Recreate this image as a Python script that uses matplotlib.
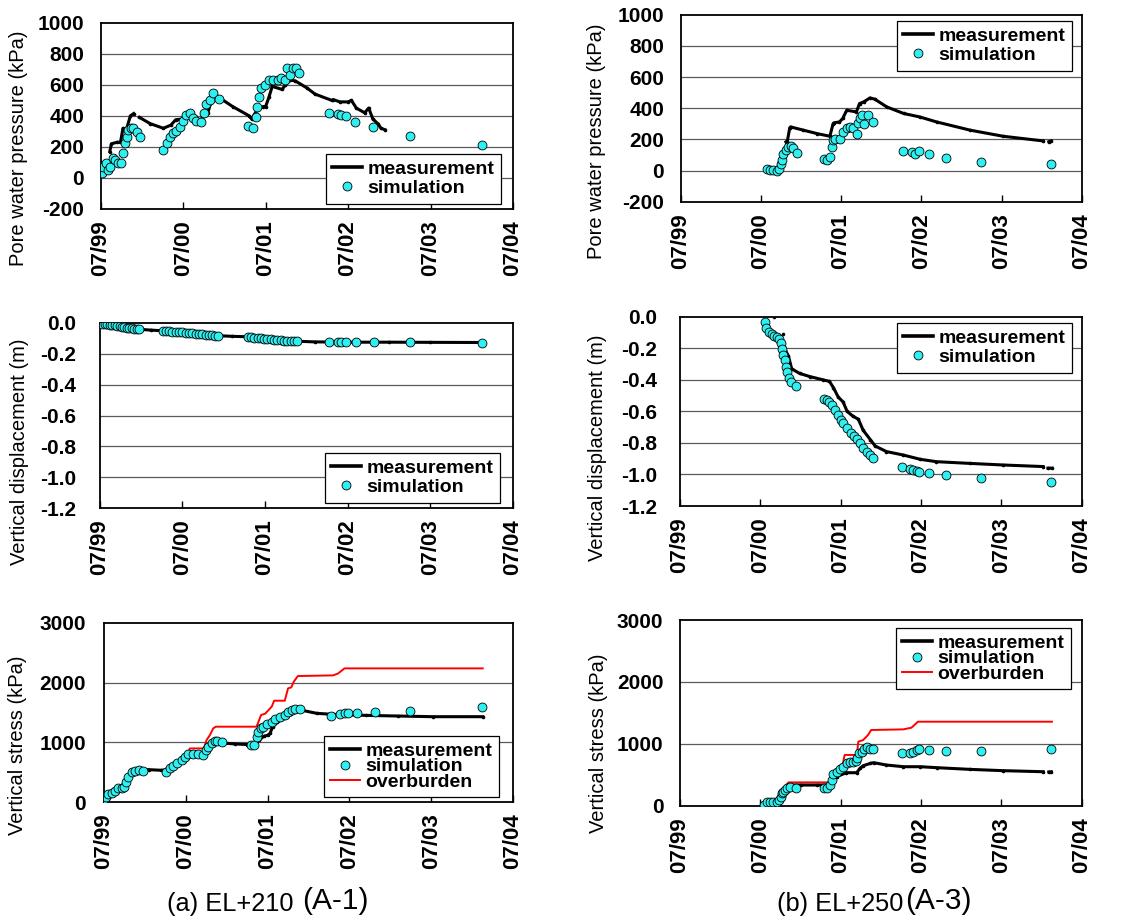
#!/usr/bin/env python3

import numpy as np
import matplotlib
matplotlib.use("Agg")
import matplotlib.pyplot as plt
from matplotlib.lines import Line2D

nan = np.nan

# ============================================================
# DATA  (time in years after 07/1999)
# ============================================================
YEAR_TICKS = [0, 1, 2, 3, 4, 5]
YEAR_LABELS = ["07/99", "07/00", "07/01", "07/02", "07/03", "07/04"]

# ---- (a) EL+210, pore water pressure (kPa)
a_pwp_meas_t = [0.11, 0.13, 0.20, 0.24, 0.27, 0.31, 0.36, 0.40, nan, 0.47, 0.60, 0.76,
                0.85, 0.91, 1.00, 1.10, 1.20, 1.30, 1.37, 1.43, 1.60, 1.80, 1.83, 1.90,
                1.97, 2.00, 2.04, 2.08, 2.20, 2.24, 2.30, 2.36, 2.50, 2.60, 2.80, 2.82,
                2.90, 3.00, 3.04, 3.10, 3.20, 3.25, 3.30, 3.36, 3.40, 3.45]
a_pwp_meas_v = [170, 220, 230, 230, 320, 310, 400, 415, nan, 390, 350, 320,
                340, 375, 380, 400, 370, 420, 550, 520, 460, 400, 380, 440,
                460, 460, 520, 590, 570, 600, 630, 625, 580, 540, 500, 505,
                490, 490, 500, 450, 420, 450, 380, 350, 320, 310]
a_pwp_sim_t = [0.012, 0.032, 0.065, 0.093, 0.113, 0.153, 0.173, 0.214, 0.242, 0.274,
               0.294, 0.315, 0.335, 0.363, 0.395, 0.435, 0.476,
               0.758, 0.798, 0.839, 0.879, 0.919, 0.960, 1.000, 1.040, 1.081, 1.121,
               1.161, 1.222, 1.250, 1.282, 1.323, 1.363, 1.435,
               1.786, 1.847, 1.879, 1.895, 1.919, 1.948, 1.988, 2.040, 2.089, 2.149,
               2.190, 2.230, 2.258, 2.290, 2.331, 2.371, 2.399,
               2.766, 2.875, 2.915, 2.976, 3.089, 3.306, 3.750, 4.621]
a_pwp_sim_v = [30, 73, 94, 52, 73, 127, 116, 94, 94, 159,
               223, 266, 309, 320, 320, 298, 266,
               180, 223, 266, 292, 305, 330, 369, 406, 416, 384,
               369, 363, 416, 476, 502, 545, 509,
               335, 320, 395, 459, 524, 577, 599, 631, 631, 631,
               642, 631, 706, 663, 706, 706, 674,
               421, 410, 406, 401, 363, 326, 270, 215]

# ---- (b) EL+250, pore water pressure (kPa)
b_pwp_meas_t = [1.313, 1.33, 1.36, 1.37, 1.53, 1.70, 1.86, 1.90, 1.91, 1.98, 2.02, 2.07,
                2.19, 2.23, 2.28, 2.36, 2.42, 2.57, 2.78, 2.98, 3.19, 3.61, 4.02, 4.52,
                nan, 4.59, 4.62]
b_pwp_meas_v = [184, 190, 275, 280, 259, 237, 220, 300, 306, 312, 334, 387,
                376, 430, 440, 466, 458, 408, 366, 344, 312, 259, 220, 190,
                nan, 185, 190]
b_pwp_sim_t = [1.072, 1.114, 1.155, 1.197, 1.230, 1.247, 1.259, 1.280, 1.313, 1.342,
               1.372, 1.397, 1.446,
               1.787, 1.829, 1.862, 1.883, 1.904, 1.924, 1.987, 2.028, 2.070, 2.111,
               2.153, 2.203, 2.215, 2.236, 2.261, 2.286, 2.340, 2.394,
               2.768, 2.880, 2.922, 2.976, 3.092, 3.308, 3.749, 4.622]
b_pwp_sim_v = [11, 6, 2, 0, 13, 40, 66, 109, 130, 152,
               156, 145, 113,
               71, 66, 88, 152, 195, 205, 205, 248, 270, 280,
               270, 237, 302, 334, 355, 297, 355, 312,
               126, 120, 109, 126, 103, 79, 56, 41]

# ---- (a) EL+210, vertical displacement (m)
a_dsp_meas_t = [0.0, 0.25, 0.49, 0.62, 0.75, 1.00, 1.43, 1.60, 1.79, 2.00, 2.39,
                2.60, 3.00, 3.50, 4.00, 4.62]
a_dsp_meas_v = [0.0, -0.022, -0.043, -0.048, -0.052, -0.063, -0.084, -0.088, -0.091,
                -0.104, -0.120, -0.124, -0.126, -0.126, -0.127, -0.128]
a_dsp_sim_t = [0.00, 0.03, 0.06, 0.09, 0.12, 0.15, 0.18, 0.21, 0.24, 0.27, 0.30, 0.33,
               0.36, 0.39, 0.42, 0.45, 0.48,
               0.76, 0.80, 0.84, 0.88, 0.92, 0.96, 1.00, 1.04, 1.08, 1.12, 1.16, 1.20,
               1.24, 1.28, 1.32, 1.36, 1.40, 1.43,
               1.79, 1.83, 1.87, 1.91, 1.95, 1.99, 2.03, 2.07, 2.11, 2.15, 2.19, 2.23,
               2.27, 2.31, 2.35, 2.39,
               2.768, 2.885, 2.925, 2.985, 3.098, 3.316, 3.751, 4.625]
a_dsp_sim_v = [-0.003, -0.006, -0.008, -0.011, -0.013, -0.015, -0.018, -0.021, -0.024,
               -0.027, -0.029, -0.032, -0.035, -0.037, -0.039, -0.041, -0.043,
               -0.052, -0.054, -0.056, -0.058, -0.059, -0.061, -0.063, -0.065, -0.067,
               -0.069, -0.071, -0.073, -0.075, -0.077, -0.079, -0.081, -0.083, -0.084,
               -0.091, -0.094, -0.097, -0.099, -0.102, -0.104, -0.106, -0.108, -0.110,
               -0.112, -0.114, -0.116, -0.117, -0.118, -0.119, -0.119,
               -0.125, -0.125, -0.127, -0.127, -0.127, -0.127, -0.127, -0.131]

# ---- (b) EL+250, vertical displacement (m)
b_dsp_meas_t = [1.17, nan, 1.28, nan, 1.29, 1.35, 1.39, 1.49, 1.62, 1.78, 1.86, 1.91,
                1.97, 2.03, 2.08, 2.15, 2.22, 2.28, 2.37, 2.43, 2.57, 2.78, 2.99, 3.19,
                3.61, 4.02, 4.52, nan, 4.58, 4.63]
b_dsp_meas_v = [-0.004, nan, -0.11, nan, -0.19, -0.25, -0.33, -0.36, -0.38, -0.40,
                -0.41, -0.45, -0.51, -0.54, -0.60, -0.63, -0.65, -0.72, -0.78, -0.82,
                -0.855, -0.877, -0.904, -0.919, -0.93, -0.94, -0.95, nan, -0.96, -0.96]
b_dsp_sim_t = [1.062, 1.071, 1.112, 1.141, 1.170, 1.203, 1.237, 1.253, 1.270, 1.286,
               1.307, 1.320, 1.336, 1.353, 1.378, 1.444,
               1.793, 1.826, 1.859, 1.888, 1.929, 1.971, 2.000, 2.033, 2.075, 2.124,
               2.166, 2.207, 2.241, 2.282, 2.324, 2.365, 2.398,
               2.768, 2.863, 2.905, 2.946, 2.979, 3.095, 3.311, 3.751, 4.622]
b_dsp_sim_v = [-0.036, -0.074, -0.099, -0.110, -0.120, -0.127, -0.144, -0.169, -0.207,
               -0.243, -0.275, -0.317, -0.349, -0.391, -0.412, -0.440,
               -0.524, -0.528, -0.539, -0.560, -0.592, -0.623, -0.655, -0.676, -0.708,
               -0.735, -0.756, -0.778, -0.803, -0.830, -0.856, -0.877, -0.898,
               -0.951, -0.966, -0.972, -0.978, -0.985, -0.993, -1.006, -1.025, -1.048]

# ---- (a) EL+210, vertical stress (kPa)
a_str_meas_t = [0.0, 0.05, 0.12, 0.20, 0.26, 0.30, 0.35, 0.40, 0.45, 0.55, 0.70, 0.75,
                0.80, 0.90, 1.00, 1.05, 1.15, 1.22, 1.28, 1.33, 1.38, 1.45, 1.60, 1.75,
                1.85, 1.90, 1.95, 2.00, 2.03, 2.06, 2.12, 2.20, 2.28, 2.36, 2.41, 2.60,
                2.80, 3.20, 3.60, 4.02, 4.63]
a_str_meas_v = [40, 100, 160, 230, 280, 400, 500, 540, 545, 545, 535, 540,
                590, 650, 720, 790, 800, 800, 900, 1000, 1020, 990, 975, 965,
                950, 1040, 1100, 1120, 1150, 1260, 1340, 1400, 1480, 1560, 1540, 1486,
                1469, 1452, 1441, 1430, 1430]
a_str_over_t = [0.0, 0.10, 0.20, 0.30, 0.40, 0.45, 0.75, 0.80, 0.90, 0.95, 1.00, 1.05,
                1.22, 1.254, 1.295, 1.335, 1.368, 1.865, 1.92, 1.97, 2.05, 2.08, 2.21,
                2.25, 2.29, 2.32, 2.37, 2.80, 2.86, 2.94, 4.63]
a_str_over_v = [50, 140, 230, 400, 530, 540, 540, 590, 650, 680, 760, 900,
                900, 1040, 1124, 1235, 1263, 1263, 1458, 1480, 1597, 1697, 1697,
                1903, 1920, 2015, 2109, 2120, 2150, 2237, 2237]
a_str_sim_t = [0.000, 0.024, 0.053, 0.094, 0.134, 0.175, 0.216, 0.244, 0.269, 0.297,
               0.338, 0.379, 0.432, 0.480,
               0.753, 0.806, 0.847, 0.888, 0.949, 0.989, 1.030, 1.091, 1.152, 1.213,
               1.246, 1.274, 1.315, 1.356, 1.384, 1.437,
               1.792, 1.832, 1.865, 1.885, 1.914, 1.946, 1.987, 2.048, 2.089, 2.150,
               2.211, 2.252, 2.293, 2.333, 2.394,
               2.769, 2.883, 2.944, 2.985, 3.094, 3.310, 3.746, 4.621]
a_str_sim_v = [56, 95, 134, 150, 195, 234, 234, 262, 345, 428,
               512, 528, 540, 528,
               500, 567, 612, 651, 707, 762, 807, 807, 807, 790,
               874, 929, 985, 1030, 1030, 1013,
               957, 957, 1096, 1180, 1235, 1263, 1308, 1347, 1386, 1419,
               1458, 1514, 1541, 1553, 1553,
               1447, 1469, 1486, 1497, 1497, 1503, 1525, 1597]

# ---- (b) EL+250, vertical stress (kPa)
b_str_meas_t = [1.02, 1.10, 1.20, 1.25, 1.30, 1.35, 1.50, 1.70, 1.87, 1.91, 1.95, 2.07,
                2.20, 2.24, 2.28, 2.37, 2.41, 2.57, 2.78, 2.99, 3.20, 3.61, 4.02, 4.52,
                nan, 4.59, 4.62]
b_str_meas_v = [0, 30, 40, 150, 280, 334, 334, 334, 334, 415, 469, 533,
                533, 603, 646, 684, 695, 657, 630, 630, 614, 587, 566, 549,
                nan, 545, 549]
b_str_over_t = [1.02, 1.10, 1.20, 1.25, 1.30, 1.35, 1.87, 1.90, 1.95, 2.00, 2.03, 2.05,
                2.20, 2.22, 2.28, 2.34, 2.38, 2.78, 2.88, 2.94, 2.96, 4.63]
b_str_over_v = [0, 30, 40, 150, 300, 377, 377, 420, 500, 560, 700, 820,
                820, 1034, 1061, 1142, 1223, 1233, 1260, 1330, 1357, 1357]
b_str_sim_t = [1.046, 1.079, 1.120, 1.162, 1.203, 1.237, 1.253, 1.270, 1.286, 1.307,
               1.336, 1.369, 1.444,
               1.793, 1.834, 1.867, 1.888, 1.909, 1.950, 1.992, 2.033, 2.075, 2.116,
               2.158, 2.191, 2.207, 2.228, 2.261, 2.290, 2.324, 2.365, 2.398,
               2.768, 2.863, 2.905, 2.946, 2.979, 3.095, 3.311, 3.751, 4.622]
b_str_sim_v = [11, 54, 54, 54, 54, 92, 145, 199, 226, 253,
               280, 296, 291,
               291, 291, 334, 415, 512, 549, 587, 630, 684, 711,
               711, 727, 765, 846, 873, 910, 953, 916, 921,
               846, 856, 873, 900, 916, 900, 889, 889, 910]


# ============================================================
# STYLE
# ============================================================
W, H = 1142, 923
CYAN = "#2EF0F0"
GRID_COLOR = "#5a5a5a"
SIM_MS = 6.4

plt.rcParams["font.family"] = ["Liberation Sans", "DejaVu Sans"]
plt.rcParams["axes.unicode_minus"] = False


def px_rect(left, top, right, bottom):
    return [left / W, 1 - bottom / H, (right - left) / W, (bottom - top) / H]


def draw_panel(fig, rect, meas, sim, over, yticks, yfmt, ylabel, label_xy,
               ytick_pad, legend_xy):
    ax = fig.add_axes(px_rect(*rect))

    ax.set_xlim(0, 5)
    ax.set_ylim(yticks[0], yticks[-1])
    ax.set_yticks(yticks)
    ax.set_yticklabels([yfmt.format(v) for v in yticks])
    ax.set_xticks(YEAR_TICKS)
    ax.set_xticklabels(YEAR_LABELS, rotation=90)

    for v in yticks[1:-1]:
        ax.axhline(v, color=GRID_COLOR, lw=0.9, zorder=1)

    for sp in ax.spines.values():
        sp.set_linewidth(1.3)
        sp.set_color("black")

    ax.tick_params(axis="y", length=0, pad=ytick_pad, labelsize=15)
    ax.tick_params(axis="x", direction="in", length=5, width=1.0, pad=8,
                   labelsize=16)
    for lab in ax.get_xticklabels() + ax.get_yticklabels():
        lab.set_fontweight("bold")

    labels = ["measurement", "simulation"]
    ax.plot(meas[0], meas[1], color="black", lw=2.2, marker="o", ms=1.6,
            zorder=3)
    ax.plot(sim[0], sim[1], ls="none", marker="o", ms=SIM_MS, mfc=CYAN,
            mec="black", mew=0.6, zorder=4)
    leg_handles = [Line2D([], [], color="black", lw=2.6),
                   Line2D([], [], ls="none", marker="o", ms=SIM_MS, mfc=CYAN,
                          mec="black", mew=0.6)]
    if over is not None:
        ax.plot(over[0], over[1], color="red", lw=1.4, zorder=2)
        leg_handles.append(Line2D([], [], color="red", lw=1.4))
        labels.append("overburden")

    leg = ax.legend(leg_handles, labels,
                    loc="upper left",
                    bbox_to_anchor=(legend_xy[0] / W, 1 - legend_xy[1] / H),
                    bbox_transform=fig.transFigure, borderaxespad=0,
                    frameon=True, fancybox=False, framealpha=1,
                    edgecolor="black", prop={"weight": "bold", "size": 14},
                    handlelength=1.5, handletextpad=0.3, borderpad=0.33,
                    labelspacing=-0.12 if over is not None else 0.08)
    leg.get_frame().set_linewidth(0.9)
    leg.set_zorder(6)

    ax.set_ylabel(ylabel, fontsize=14.5)
    ax.yaxis.label.set_va("center")
    lx = (label_xy[0] - rect[0]) / (rect[2] - rect[0])
    ly = (rect[3] - label_xy[1]) / (rect[3] - rect[1])
    ax.yaxis.set_label_coords(lx, ly)
    return ax


# ============================================================
# FIGURE
# ============================================================
def main():
    fig = plt.figure(figsize=(W / 100, H / 100), dpi=100)

    pwp_ticks = [-200, 0, 200, 400, 600, 800, 1000]
    dsp_ticks = [-1.2, -1.0, -0.8, -0.6, -0.4, -0.2, 0.0]
    str_ticks = [0, 1000, 2000, 3000]

    draw_panel(fig, (100.7, 22.7, 513, 209),
               (a_pwp_meas_t, a_pwp_meas_v), (a_pwp_sim_t, a_pwp_sim_v), None,
               pwp_ticks, "{:d}", "Pore water pressure (kPa)", (19, 148.5),
               12, (326, 154))
    draw_panel(fig, (680.7, 14.7, 1081.7, 201.7),
               (b_pwp_meas_t, b_pwp_meas_v), (b_pwp_sim_t, b_pwp_sim_v), None,
               pwp_ticks, "{:d}", "Pore water pressure (kPa)", (597, 141.7),
               12, (897, 21))
    draw_panel(fig, (99.7, 322.7, 513, 508.3),
               (a_dsp_meas_t, a_dsp_meas_v), (a_dsp_sim_t, a_dsp_sim_v), None,
               dsp_ticks, "{:.1f}", "Vertical displacement (m)", (19.5, 452),
               17, (325, 453))
    draw_panel(fig, (680, 316.7, 1081.7, 506),
               (b_dsp_meas_t, b_dsp_meas_v), (b_dsp_sim_t, b_dsp_sim_v), None,
               dsp_ticks, "{:.1f}", "Vertical displacement (m)", (597.5, 447.5),
               16.5, (897, 323))
    draw_panel(fig, (104, 622.7, 513, 802.3),
               (a_str_meas_t, a_str_meas_v), (a_str_sim_t, a_str_sim_v),
               (a_str_over_t, a_str_over_v),
               str_ticks, "{:d}", "Vertical stress (kPa)", (17.5, 745),
               13, (324, 736))
    draw_panel(fig, (680, 620, 1081.7, 805.7),
               (b_str_meas_t, b_str_meas_v), (b_str_sim_t, b_str_sim_v),
               (b_str_over_t, b_str_over_v),
               str_ticks, "{:d}", "Vertical stress (kPa)", (598, 743),
               12, (896, 628))

    # captions
    fig.text(167 / W, 1 - 911 / H, "(a) EL+210", fontsize=18.3, va="baseline")
    fig.text(302 / W, 1 - 909 / H, "(A-1)", fontsize=21.5, va="baseline")
    fig.text(777 / W, 1 - 911 / H, "(b) EL+250", fontsize=18.3, va="baseline")
    fig.text(905 / W, 1 - 909 / H, "(A-3)", fontsize=21.5, va="baseline")

    fig.savefig("out.png", dpi=100)


if __name__ == "__main__":
    main()
